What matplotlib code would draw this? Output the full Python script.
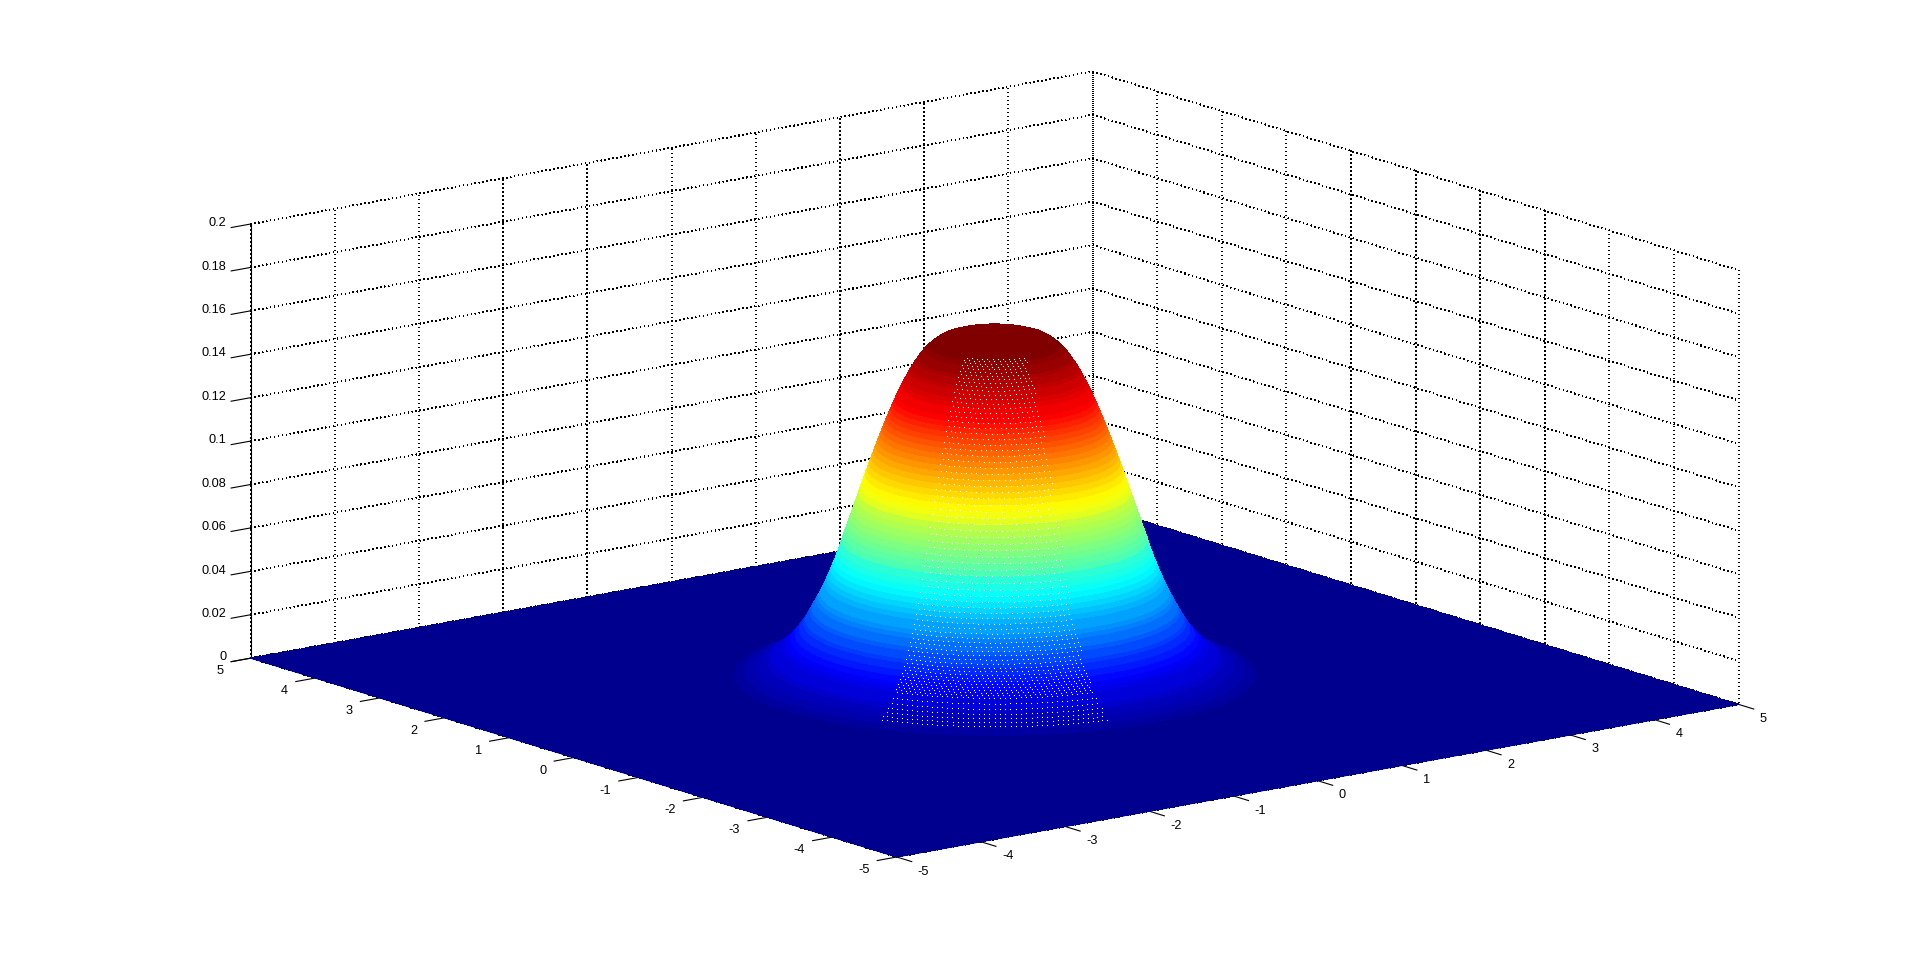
import numpy as np
import matplotlib
matplotlib.use("Agg")
import matplotlib.pyplot as plt
from matplotlib.colors import LinearSegmentedColormap, Normalize
from mpl_toolkits.mplot3d import proj3d

plt.rcParams['font.family'] = ['Liberation Sans', 'DejaVu Sans']
plt.rcParams['axes.unicode_minus'] = False

# Dome profile: radius from the peak, and height there
radius = [0.00, 0.10, 0.20, 0.30, 0.40, 0.50, 0.55,
          0.60, 0.62, 0.64, 0.66, 0.68, 0.70, 0.72, 0.74, 0.76, 0.78,
          0.80, 0.82, 0.84, 0.86, 0.88, 0.90, 0.92, 0.94, 0.96, 0.98,
          1.00, 1.02, 1.04, 1.06, 1.08, 1.10, 1.12, 1.14, 1.16, 1.18,
          1.20, 1.22, 1.24, 1.26, 1.28, 1.30, 1.32, 1.34, 1.36, 1.38,
          1.40, 1.42, 1.44, 1.46, 1.48, 1.50, 1.52, 1.54, 1.56, 1.58,
          1.60, 1.62, 1.64, 1.66, 1.68, 1.70, 1.72, 1.74, 1.76, 1.78,
          1.80, 1.82, 1.84, 1.86, 1.88, 1.90, 1.92, 1.94, 1.96, 1.98,
          2.00, 2.05, 2.10, 2.15, 2.20, 2.25, 2.30, 2.35, 2.40, 2.45, 2.50, 2.55, 2.60]
height = [0.1625, 0.1623, 0.1618, 0.1610, 0.1600, 0.1585, 0.1571,
          0.1553, 0.1545, 0.1536, 0.1526, 0.1515, 0.1503, 0.1490, 0.1476, 0.1462, 0.1447,
          0.1431, 0.1414, 0.1396, 0.1378, 0.1359, 0.1339, 0.1319, 0.1298, 0.1276, 0.1254,
          0.1231, 0.1208, 0.1184, 0.1160, 0.1136, 0.1111, 0.1085, 0.1059, 0.1033, 0.1007,
          0.0981, 0.0953, 0.0925, 0.0898, 0.0871, 0.0843, 0.0815, 0.0787, 0.0760, 0.0732,
          0.0705, 0.0678, 0.0652, 0.0620, 0.0592, 0.0565, 0.0541, 0.0517, 0.0494, 0.0472,
          0.0450, 0.0429, 0.0409, 0.0390, 0.0372, 0.0355, 0.0337, 0.0320, 0.0303, 0.0286,
          0.0270, 0.0256, 0.0242, 0.0229, 0.0217, 0.0205, 0.0194, 0.0184, 0.0174, 0.0164,
          0.0155, 0.0134, 0.0115, 0.0098, 0.0083, 0.0070, 0.0058, 0.0048, 0.0038, 0.0029, 0.0020, 0.0010, 0.0000]
floor_x = [-5, 5]
floor_y = [-5, 5]
floor_z = [[0, 0], [0, 0]]
x_ticks = [-5, -4, -3, -2, -1, 0, 1, 2, 3, 4, 5]
y_ticks = [-5, -4, -3, -2, -1, 0, 1, 2, 3, 4, 5]
z_ticks = [0, 0.02, 0.04, 0.06, 0.08, 0.1, 0.12, 0.14, 0.16, 0.18, 0.2]
z_labels = ['0', '0.02', '0.04', '0.06', '0.08', '0.1', '0.12', '0.14', '0.16', '0.18', '0.2']
# Heights at which the surface colours pass blue, cyan, yellow, red, dark red
color_heights = [0.0, 0.019, 0.056, 0.094, 0.132, 0.157]

W, H = 1921, 963
fig = plt.figure(figsize=(W / 100, H / 100), dpi=100, facecolor='white')
ax = fig.add_subplot(projection='3d', proj_type='ortho', computed_zorder=False)
ax.view_init(elev=30, azim=-127.5)
ax.set_box_aspect((1, 1, 1))
ax.set_xlim(-5, 5)
ax.set_ylim(-5, 5)
ax.set_zlim(0, 0.2)

top_c = color_heights[-1]
jet = LinearSegmentedColormap.from_list(
    'matlab_jet',
    [(h / top_c, c) for h, c in zip(color_heights,
     [(0, 0, 0.5625), (0, 0, 1), (0, 1, 1), (1, 1, 0), (1, 0, 0), (0.5, 0, 0)])], N=64)
norm = Normalize(0, top_c, clip=True)

# Floor
fx, fy = np.meshgrid(floor_x, floor_y)
ax.plot_surface(fx, fy, np.array(floor_z, float), color=jet(0), shade=False,
                linewidth=0, antialiased=False, zorder=1)

# Dome: the read profile turned about the vertical axis
r = np.array(radius)
z = np.array(height)
theta = np.linspace(0, 2 * np.pi, 361)
R, T = np.meshgrid(r, theta, indexing='ij')
Z = np.repeat(z[:, None], theta.size, axis=1)
mid = 0.5 * (Z[:-1, :-1] + Z[1:, 1:])
ax.plot_surface(R * np.cos(T), R * np.sin(T), Z, facecolors=jet(norm(mid)), shade=False,
                rstride=1, cstride=1, linewidth=0, antialiased=False, zorder=2)

# White rendering specks on the nodes of the front rings of the dome
front_angle = np.deg2rad(-127.5)
sx_, sy_, sz_ = [], [], []
for i, (ri, zi) in enumerate(zip(radius, height)):
    if 0.60 <= ri <= 2.30:
        half = np.deg2rad(28)
        step = 0.05 / ri
        shift = 0.5 * step * (i % 2)
        for a in np.arange(-half + shift, half, step):
            sx_.append(ri * np.cos(front_angle + a))
            sy_.append(ri * np.sin(front_angle + a))
            sz_.append(zi)
ax.plot(sx_, sy_, sz_, ls='none', marker='s', ms=0.8, mew=0, color='white',
        antialiased=False, zorder=3)

# Axes styling
for axis in (ax.xaxis, ax.yaxis, ax.zaxis):
    axis.set_pane_color((1, 1, 1, 1))
    axis.pane.set_edgecolor('none')
    axis._axinfo['grid'].update(color='k', linewidth=0.72, linestyle=(0, (1, 3)))
    axis._axinfo['tick'].update(inward_factor=0.29, outward_factor=0.0)
    axis._axinfo['axisline']['color'] = (0, 0, 0, 1)
    axis._axinfo['axisline']['linewidth'] = 0.8
    axis.gridlines.set_antialiased(False)

ax.set_xticks(x_ticks)
ax.set_yticks(y_ticks)
ax.set_zticks(z_ticks)
ax.set_zticklabels(z_labels)
ax.zaxis.set_ticks_position('upper')
ax.tick_params(axis='both', which='major', labelsize=9.2, width=0.8, color='k', pad=8)
ax.tick_params(axis='z', which='major', labelsize=9.2, width=0.8, color='k', pad=0)
for t in ax.get_xticklabels():
    t.set_ha('left'); t.set_va('bottom')
for t in ax.get_yticklabels():
    t.set_ha('right'); t.set_va('bottom')
for t in ax.get_zticklabels():
    t.set_ha('right'); t.set_va('center')

# Place the box so that its corners land where the reference has them (pixels, y down)
M = ax.get_proj()
def proj(x, y, zz):
    tx, ty, _ = proj3d.proj_transform(x, y, zz, M)
    return float(tx), float(ty)
left = proj(-5, 5, 0)
right = proj(5, -5, 0)
top = proj(-5, 5, 0.2)
front = proj(-5, -5, 0)
pxL, pxR = 250.7, 1738.7
pxF_y, pxT_y = H - 857.0, H - 224.0
vx0, vx1 = ax.viewLim.intervalx
vy0, vy1 = ax.viewLim.intervaly
sx = (pxR - pxL) / (right[0] - left[0])
sy = (pxT_y - pxF_y) / (top[1] - front[1])
w_px = sx * (vx1 - vx0)
h_px = sy * (vy1 - vy0)
x0_px = pxL - (left[0] - vx0) * sx
y0_px = pxF_y - (front[1] - vy0) * sy
ax.set_position([x0_px / W, y0_px / H, w_px / W, h_px / H])
ax.apply_aspect = lambda position=None: None

fig.savefig('out.png', dpi=100, facecolor='white')
